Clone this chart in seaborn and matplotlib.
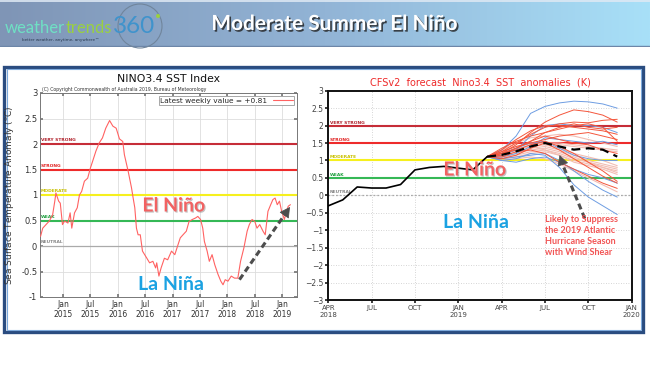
import numpy as np
import pandas as pd
import seaborn as sns
import matplotlib.pyplot as plt
from matplotlib import patheffects as pe
from matplotlib.colors import LinearSegmentedColormap
from matplotlib.patches import Rectangle, Ellipse

W, H = 650, 366

# ---- left chart: BoM weekly NINO3.4 index (decimal year, degC) ----
bom_year = [2014.59, 2014.63, 2014.69, 2014.75, 2014.81, 2014.85, 2014.87, 2014.92,
            2014.95, 2014.99, 2015.03, 2015.09, 2015.13, 2015.16, 2015.21, 2015.26,
            2015.30, 2015.34, 2015.39, 2015.45, 2015.50, 2015.54, 2015.60, 2015.66,
            2015.72, 2015.78, 2015.85, 2015.91, 2015.97, 2016.03, 2016.09, 2016.12,
            2016.19, 2016.25, 2016.28, 2016.31, 2016.34, 2016.37, 2016.41, 2016.45,
            2016.49, 2016.53, 2016.58, 2016.64, 2016.69, 2016.71, 2016.75, 2016.79,
            2016.85, 2016.91, 2016.98, 2017.04, 2017.10, 2017.14, 2017.19, 2017.25,
            2017.30, 2017.36, 2017.42, 2017.46, 2017.51, 2017.55, 2017.58, 2017.63,
            2017.67, 2017.72, 2017.77, 2017.83, 2017.88, 2017.92, 2017.96, 2018.01,
            2018.07, 2018.13, 2018.19, 2018.24, 2018.30, 2018.36, 2018.40, 2018.45,
            2018.50, 2018.54, 2018.59, 2018.65, 2018.69, 2018.74, 2018.79, 2018.83,
            2018.87, 2018.91, 2018.95, 2018.99, 2019.04, 2019.07, 2019.11, 2019.15]
bom_anom = [0.19, 0.35, 0.42, 0.49, 0.61, 0.88, 1.04, 0.88,
            0.84, 0.42, 0.49, 0.45, 0.65, 0.35, 0.65, 0.75,
            1.00, 1.07, 1.27, 1.33, 1.53, 1.66, 1.86, 2.02,
            2.12, 2.31, 2.46, 2.35, 2.31, 2.10, 2.05, 1.79,
            1.46, 1.14, 0.94, 0.75, 0.35, 0.22, 0.22, -0.10,
            -0.17, -0.24, -0.33, -0.30, -0.43, -0.33, -0.59, -0.43,
            -0.24, -0.27, -0.10, -0.17, 0.03, 0.16, 0.22, 0.29,
            0.48, 0.52, 0.55, 0.58, 0.52, 0.35, 0.09, -0.10,
            -0.30, -0.17, -0.37, -0.56, -0.69, -0.76, -0.66, -0.69,
            -0.59, -0.63, -0.63, -0.30, -0.04, 0.29, 0.42, 0.52,
            0.48, 0.35, 0.42, 0.29, 0.22, 0.68, 0.81, 0.91,
            0.94, 0.81, 0.88, 0.68, 0.52, 0.65, 0.78, 0.81]
bom_xticks = [2015.0, 2015.5, 2016.0, 2016.5, 2017.0, 2017.5, 2018.0, 2018.5, 2019.0]
bom_xlabels = ["Jan\n2015", "Jul\n2015", "Jan\n2016", "Jul\n2016", "Jan\n2017",
               "Jul\n2017", "Jan\n2018", "Jul\n2018", "Jan\n2019"]
bom_yticks = [3, 2.5, 2, 1.5, 1, 0.5, 0, -0.5, -1]
bom_ylabels = ["3", "2.5", "2", "1.5", "1", "0.5", "0", "-0.5", "-1"]

# ---- right chart: CFSv2 forecast (months after Apr 2018) ----
obs_month = list(range(12))
obs_anom = [-0.30, -0.13, 0.24, 0.21, 0.21, 0.31, 0.73, 0.80, 0.83, 0.78, 0.73, 1.11]
fc_month = list(range(11, 21))
fc_mean = [1.11, 1.16, 1.26, 1.40, 1.50, 1.40, 1.31, 1.35, 1.31, 1.11]
red_members = [
    [1.11, 1.25, 1.50, 1.75, 1.95, 2.05, 2.10, 2.08, 2.15, 2.18],
    [1.11, 1.20, 1.45, 1.80, 2.10, 2.30, 2.45, 2.40, 2.30, 2.10],
    [1.11, 1.30, 1.60, 1.85, 2.00, 2.00, 1.95, 1.90, 1.85, 1.75],
    [1.11, 1.15, 1.35, 1.55, 1.80, 1.90, 2.00, 2.05, 1.95, 1.55],
    [1.11, 1.25, 1.40, 1.50, 1.60, 1.70, 1.75, 1.80, 1.70, 1.60],
    [1.11, 1.20, 1.30, 1.45, 1.55, 1.40, 1.20, 0.95, 0.70, 0.40],
    [1.11, 1.10, 1.25, 1.30, 1.20, 0.95, 0.75, 0.55, 0.35, 0.20],
    [1.11, 1.35, 1.55, 1.70, 1.80, 1.95, 2.05, 1.95, 1.90, 1.95],
    [1.11, 1.20, 1.35, 1.55, 1.70, 1.60, 1.50, 1.45, 1.30, 1.20],
    [1.11, 1.05, 1.15, 1.35, 1.50, 1.30, 1.05, 0.80, 0.55, 0.35],
]
blue_members = [
    [1.11, 1.30, 1.70, 2.35, 2.55, 2.65, 2.70, 2.68, 2.62, 2.50],
    [1.11, 1.15, 1.30, 1.70, 2.00, 2.05, 2.00, 2.00, 1.95, 1.80],
    [1.11, 1.00, 1.05, 1.20, 1.15, 0.80, 0.30, -0.05, -0.30, -0.55],
    [1.11, 1.05, 1.10, 1.15, 1.20, 1.00, 0.70, 0.40, 0.15, -0.05],
    [1.11, 1.10, 1.20, 1.40, 1.65, 1.60, 1.55, 1.50, 1.55, 1.45],
    [1.11, 1.00, 0.95, 1.05, 1.10, 0.95, 0.75, 0.60, 0.50, 0.35],
    [1.11, 1.20, 1.35, 1.50, 1.55, 1.35, 1.15, 1.05, 1.00, 1.00],
]
pale_members = [
    [1.11, 1.20, 1.30, 1.40, 1.45, 1.35, 1.20, 1.10, 1.00, 0.85],
    [1.11, 1.05, 1.10, 1.20, 1.25, 1.15, 1.00, 0.90, 0.80, 0.70],
    [1.11, 1.25, 1.40, 1.50, 1.50, 1.45, 1.40, 1.35, 1.30, 1.25],
    [1.11, 1.00, 1.05, 1.10, 1.05, 0.90, 0.70, 0.50, 0.30, 0.10],
    [1.11, 1.15, 1.25, 1.35, 1.40, 1.30, 1.15, 1.00, 0.90, 0.80],
    [1.11, 1.30, 1.50, 1.65, 1.70, 1.75, 1.70, 1.60, 1.50, 1.40],
    [1.11, 1.10, 1.15, 1.25, 1.30, 1.20, 1.05, 0.95, 0.85, 0.75],
    [1.11, 1.20, 1.35, 1.40, 1.30, 1.15, 0.95, 0.85, 0.75, 0.60],
    [1.11, 1.05, 1.20, 1.30, 1.35, 1.25, 1.10, 0.95, 0.80, 0.65],
    [1.11, 1.15, 1.30, 1.45, 1.50, 1.50, 1.45, 1.40, 1.35, 1.30],
]
cfs_xticks = [0, 3, 6, 9, 12, 15, 18, 21]
cfs_xlabels = ["APR\n2018", "JUL", "OCT", "JAN\n2019", "APR", "JUL", "OCT", "JAN\n2020"]
cfs_yticks = [3, 2.5, 2, 1.5, 1, 0.5, 0, -0.5, -1, -1.5, -2, -2.5, -3]
cfs_ylabels = ["3", "2.5", "2", "1.5", "1", "0.5", "0", "\u22120.5", "\u22121",
               "\u22121.5", "\u22122", "\u22122.5", "\u22123"]

levels = [2.0, 1.5, 1.0, 0.5, 0.0]
level_names = ["VERY STRONG", "STRONG", "MODERATE", "WEAK", "NEUTRAL"]
level_colors = ["#c62d38", "#ee2b2b", "#f6f01e", "#35b856", "#bdbdbd"]
level_text = ["#b0202a", "#e02020", "#c8c000", "#20a040", "#888888"]

sns.set_theme(style="white")
plt.rcParams["font.family"] = ["DejaVu Sans"]

fig = plt.figure(figsize=(6.5, 3.66), dpi=100)
renderer = fig.canvas.get_renderer()


def fx(x):
    return x / W


def fy(y):
    return 1 - y / H


# panel frame (behind the chart axes)
fig.patches.append(Rectangle((fx(4), fy(332)), 639 / W, (332 - 67) / H, zorder=-10,
                             transform=fig.transFigure, fc="white", ec="#2a4c80", lw=2.4))
fig.patches.append(Rectangle((fx(6.5), fy(329.5)), 634 / W, (329.5 - 69) / H, zorder=-9,
                             transform=fig.transFigure, fill=False, ec="#7eaadc", lw=0.8))

# header band
hax = fig.add_axes([0, fy(47), 1, 47 / H])
band = LinearSegmentedColormap.from_list("band", ["#7f95b6", "#92b4d6", "#a8e0f8"])
hax.imshow(np.linspace(0, 1, 256)[None, :], aspect="auto", cmap=band, extent=[0, 1, 0, 1])
hax.axhline(0.97, color="#dfe9f4", lw=1.2)
hax.axhline(0.02, color="#6d86a8", lw=1.0)
hax.set_axis_off()

# logo: pieces placed one after the other
logo_x = 5
for word, size, col in (("weather", 12, "#6fe0c4"), ("trends", 12, "#9ad13f"),
                        ("360", 17.5, "#3f93cc")):
    t = fig.text(fx(logo_x), fy(33), word, fontsize=size, color=col, family="Lato",
                 va="baseline", zorder=5)
    logo_x += t.get_window_extent(renderer).width + 0.5
fig.text(fx(22), fy(41), "better weather, anytime, anywhere\u2122", fontsize=3,
         color="#2a3a50", va="baseline", zorder=5)
fig.patches.append(Ellipse((fx(140), fy(26)), 44 / W, 44 / H, transform=fig.transFigure,
                           fill=False, ec="#70859c", lw=0.8, zorder=4))
fig.patches.append(Ellipse((fx(158), fy(16)), 4 / W, 4 / H, transform=fig.transFigure,
                           fc="#9ad13f", ec="none", zorder=4))
fig.text(fx(335), fy(24), "Moderate Summer El Ni\u00f1o", fontsize=15, color="white",
         family="Lato", fontweight="bold", ha="center", va="center", zorder=5,
         path_effects=[pe.withSimplePatchShadow(offset=(1.2, -1.2),
                                                shadow_rgbFace="#202020", alpha=0.8)])


def draw_levels(ax, x0, neutral_ls):
    for lv, name, col, tcol in zip(levels, level_names, level_colors, level_text):
        if lv == 0:
            ax.axhline(lv, color="#aaaaaa", lw=0.9, ls=neutral_ls, zorder=2)
        else:
            ax.axhline(lv, color=col, lw=1.5, zorder=2)
        ax.text(x0, lv + 0.03, name, fontsize=3.2, color=tcol, fontweight="bold",
                va="bottom", ha="left", zorder=3)


# ---- left axes ----
ax1 = fig.add_axes([fx(40), fy(297), 257 / W, 204 / H])
ax1.set_xlim(2014.58, 2019.27)
ax1.set_ylim(-1, 3)
draw_levels(ax1, 2014.6, "-")
sns.lineplot(x=bom_year, y=bom_anom, ax=ax1, color="#ff6262", lw=0.8,
             label="Latest weekly value = +0.81", zorder=4)
ax1.set_xticks(bom_xticks)
ax1.set_xticklabels(bom_xlabels, fontsize=5.5, color="#333333")
ax1.set_yticks(bom_yticks)
ax1.set_yticklabels(bom_ylabels, fontsize=6, color="#333333")
ax1.grid(True, color="#dddddd", lw=0.6)
ax1.tick_params(direction="in", length=2, pad=2, top=True, right=True,
                bottom=True, left=True, color="#777777")
for s in ax1.spines.values():
    s.set_color("#777777")
    s.set_linewidth(0.7)
leg = ax1.legend(loc="upper right", fontsize=5.3, markerfirst=False, fancybox=False,
                 edgecolor="#999999", framealpha=1, borderaxespad=0.4,
                 handlelength=2.6, borderpad=0.2)
leg.get_frame().set_linewidth(0.6)
ax1.set_title("NINO3.4 SST Index", fontsize=7.8, pad=8, color="#111111")
ax1.set_ylabel("Sea Surface Temperature Anomaly ($^{\\rm o}$C)", fontsize=6.5,
               color="#333333", labelpad=4)
fig.text(fx(42), fy(90.5), "(C) Copyright Commonwealth of Australia 2019, Bureau of Meteorology",
         fontsize=3.3, color="#333333")
ax1.plot([2018.22, 2019.10], [-0.66, 0.70], ls=(0, (2, 1.2)), lw=2.2, color="#4d4d4d", zorder=5)
ax1.annotate("", xy=(2019.17, 0.81), xytext=(2019.08, 0.67),
             arrowprops=dict(arrowstyle="-|>,head_length=0.55,head_width=0.3",
                             color="#4d4d4d", lw=0.5), zorder=5)

# ---- right axes ----
ax2 = fig.add_axes([fx(328.3), fy(300), 303.4 / W, 209.3 / H])
ax2.set_xlim(0, 21)
ax2.set_ylim(-3, 3)
draw_levels(ax2, 0.1, (0, (1.5, 1.5)))

rows = []
for grp, members in (("pale", pale_members), ("blue", blue_members), ("red", red_members)):
    for i, vals in enumerate(members):
        for m, v in zip(fc_month, vals):
            rows.append({"group": grp, "member": f"{grp}{i}", "month": m, "anom": v})
ens = pd.DataFrame(rows)
ens_colors = {"pale": ("#f2bdb3", 0.8), "blue": ("#6e9de2", 0.7), "red": ("#f4563c", 0.7)}
for grp in ("pale", "blue", "red"):
    col, lw = ens_colors[grp]
    sns.lineplot(data=ens[ens.group == grp], x="month", y="anom", units="member",
                 estimator=None, color=col, lw=lw, ax=ax2, zorder=4)
sns.lineplot(x=obs_month, y=obs_anom, ax=ax2, color="black", lw=1.2, zorder=5)
sns.lineplot(x=fc_month, y=fc_mean, ax=ax2, color="black", lw=1.6, ls=(0, (4, 2.5)), zorder=6)
ax2.set_xticks(cfs_xticks)
ax2.set_xticklabels(cfs_xlabels, fontsize=5, color="#444444")
ax2.set_yticks(cfs_yticks)
ax2.set_yticklabels(cfs_ylabels, fontsize=5.5, color="#444444")
ax2.grid(True, color="#c8c8c8", lw=0.6, ls=(0, (1, 2)))
ax2.tick_params(direction="out", length=2, pad=1.5, bottom=True, left=True, color="#222222")
for s in ax2.spines.values():
    s.set_color("#111111")
    s.set_linewidth(1.4)
ax2.set_xlabel("")
ax2.set_ylabel("")
ax2.set_title("CFSv2  forecast  Nino3.4  SST  anomalies  (K)", fontsize=7, color="#ee2a2a", pad=4)
ax2.plot([17.75, 16.25], [-0.66, 0.85], ls=(0, (2, 1.2)), lw=2.2, color="#4d4d4d", zorder=7)
ax2.annotate("", xy=(15.95, 1.23), xytext=(16.3, 0.80),
             arrowprops=dict(arrowstyle="-|>,head_length=0.55,head_width=0.3",
                             color="#4d4d4d", lw=0.5), zorder=7)

# annotations
shadow = [pe.withSimplePatchShadow(offset=(0.8, -0.8), shadow_rgbFace="#888888", alpha=0.5)]
for x, y in ((174, 206), (475, 170)):
    fig.text(fx(x), fy(y), "El Ni\u00f1o", fontsize=14, color="#f26262", family="Lato",
             fontweight="bold", ha="center", va="center", path_effects=shadow, zorder=10)
for x, y in ((171, 285), (476, 222)):
    fig.text(fx(x), fy(y), "La Ni\u00f1a", fontsize=14, color="#1ba2e2", family="Lato",
             fontweight="bold", ha="center", va="center", zorder=10)
fig.text(fx(545), fy(236), "Likely to Suppress\nthe 2019 Atlantic\nHurricane Season\nwith Wind Shear",
         fontsize=6.5, color="#f25555", family="Lato", fontweight="bold", ha="left",
         va="center", linespacing=1.25, zorder=10)

fig.savefig("out.png", dpi=100)
